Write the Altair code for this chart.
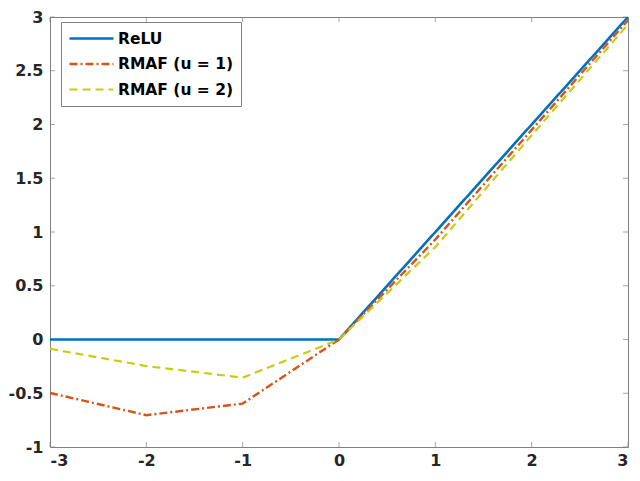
import altair as alt
import pandas as pd

# ---- data ----
x_vals = [-3, -2, -1, 0, 1, 2, 3]
relu = [0, 0, 0, 0, 1, 2, 3]
rmaf_u1 = [-0.497, -0.704, -0.596, 0, 0.93, 1.95, 2.97]
rmaf_u2 = [-0.086, -0.247, -0.355, 0, 0.86, 1.90, 2.93]
series_names = ["ReLU", "RMAF (u = 1)", "RMAF (u = 2)"]
x_ticks = [-3, -2, -1, 0, 1, 2, 3]
y_ticks = [-1, -0.5, 0, 0.5, 1, 1.5, 2, 2.5, 3]

colors = ["#0072BD", "#D95319", "#CBCB14"]
dashes = [[1, 0], [8, 3, 2, 3], [8, 5]]
widths = [2.6, 2.2, 2.2]

rows = []
for name, ys in zip(series_names, [relu, rmaf_u1, rmaf_u2]):
    for xv, yv in zip(x_vals, ys):
        rows.append({"x": xv, "y": yv, "series": name})
df = pd.DataFrame(rows)

W, H = 578, 430
GRAY = "#808080"
FONT = "DejaVu Sans"

xscale = alt.Scale(domain=[-3, 3], nice=False, zero=False)
yscale = alt.Scale(domain=[-1, 3], nice=False, zero=False)

legend = alt.Legend(
    title=None, orient="none", legendX=11, legendY=5,
    strokeColor=GRAY, fillColor="white", padding=7, cornerRadius=0,
    symbolType="stroke", symbolSize=44 * 44, symbolStrokeWidth=2,
    clipHeight=19, rowPadding=6.5, labelOffset=3,
    labelFont=FONT, labelFontWeight="bold", labelFontSize=15.5, labelColor="#000000",
)

lines = alt.Chart(df).mark_line(clip=True).encode(
    x=alt.X("x:Q", scale=xscale, title=None,
            axis=alt.Axis(values=x_ticks, labelPadding=5, labelExpr="toString(datum.value)")),
    y=alt.Y("y:Q", scale=yscale, title=None,
            axis=alt.Axis(values=y_ticks, labelPadding=7, labelExpr="toString(datum.value)")),
    color=alt.Color("series:N", scale=alt.Scale(domain=series_names, range=colors), legend=legend),
    strokeDash=alt.StrokeDash("series:N", scale=alt.Scale(domain=series_names, range=dashes), legend=legend),
    strokeWidth=alt.StrokeWidth("series:N", scale=alt.Scale(domain=series_names, range=widths), legend=None),
)

xt = pd.DataFrame({"x": x_ticks})
yt = pd.DataFrame({"y": y_ticks})
tick_style = dict(color=GRAY, thickness=1, size=5)
xb = alt.Chart(xt).mark_tick(**tick_style).encode(x=alt.X("x:Q", scale=xscale, title=None), y=alt.value(H - 2.5))
xtp = alt.Chart(xt).mark_tick(**tick_style).encode(x=alt.X("x:Q", scale=xscale, title=None), y=alt.value(2.5))
yl = alt.Chart(yt).mark_tick(**tick_style).encode(y=alt.Y("y:Q", scale=yscale, title=None), x=alt.value(2.5))
yr = alt.Chart(yt).mark_tick(**tick_style).encode(y=alt.Y("y:Q", scale=yscale, title=None), x=alt.value(W - 2.5))

chart = alt.layer(xb, xtp, yl, yr, lines).properties(
    width=W, height=H,
    autosize=alt.AutoSizeParams(type="none"),
    padding={"left": 42, "top": 9, "right": 4, "bottom": 24},
).configure_view(
    stroke=GRAY, strokeWidth=1
).configure_axis(
    domain=False, ticks=False, tickSize=0, grid=False,
    labelFont=FONT, labelFontWeight="bold", labelFontSize=16, labelColor="#262626",
)

chart.save("out.html", embed_options={"renderer": "svg", "actions": False})
